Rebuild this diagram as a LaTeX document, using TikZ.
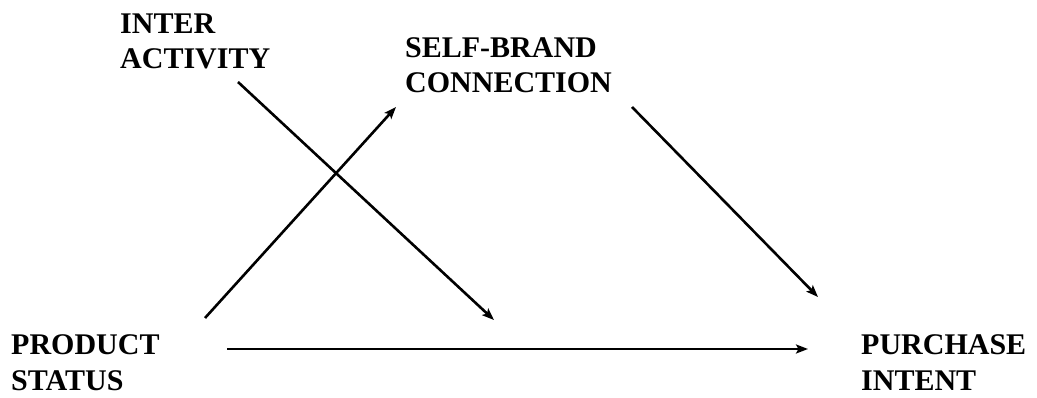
\documentclass[tikz,border=0pt]{standalone}
\usepackage{fontspec}
\setmainfont{Liberation Serif}
\usetikzlibrary{arrows.meta}
\begin{document}
\begin{tikzpicture}[x=1pt,y=-1pt,
  lbl/.style={font=\fontsize{30}{35.5}\selectfont\bfseries, align=left, inner sep=0pt, anchor=base west},
  conn/.style={line width=2.6pt, -{Stealth[length=12pt,width=9pt,inset=2.5pt]}}]
\useasboundingbox (0,0) rectangle (1037,398);
\node[lbl] (inter) at (120,69) {INTER\\ACTIVITY};
\node[lbl] (sbc) at (405,93) {SELF-BRAND\\CONNECTION};
\node[lbl] (prod) at (11,390) {PRODUCT\\STATUS};
\node[lbl] (pi) at (861,390) {PURCHASE\\INTENT};
\coordinate (a1s) at (238,82);
\coordinate (a1e) at (494,320);
\coordinate (a2s) at (205,318);
\coordinate (a2e) at (396,107);
\coordinate (a3s) at (632,107);
\coordinate (a3e) at (818,297);
\coordinate (a4s) at (227,349);
\coordinate (a4e) at (808,349);
\draw[conn] (a1s) -- (a1e);
\draw[conn] (a2s) -- (a2e);
\draw[conn] (a3s) -- (a3e);
\draw[conn] (a4s) -- (a4e);
\end{tikzpicture}
\end{document}
